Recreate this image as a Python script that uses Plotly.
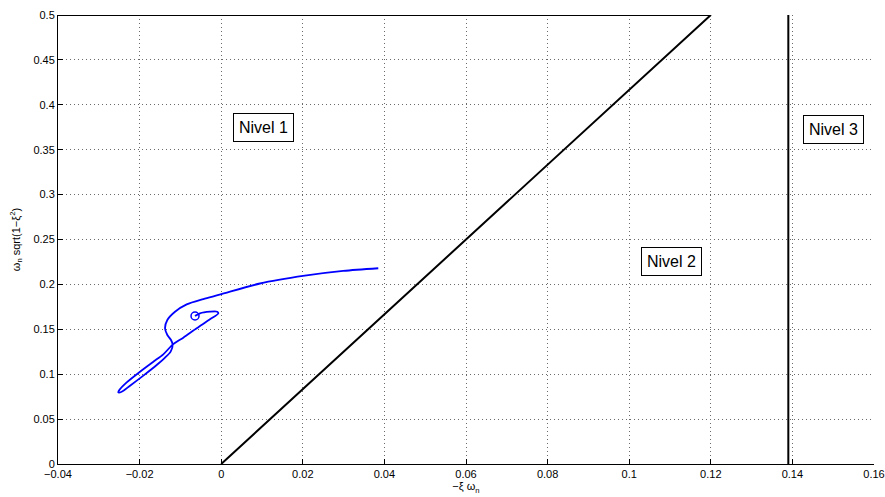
import plotly.graph_objects as go

# Blue trajectory
traj_x = [0.0385, 0.0299, 0.0205, 0.0095, -0.0004, -0.00438, -0.00846, -0.01132, -0.01320, -0.01377,
          -0.01320, -0.01230, -0.01190, -0.01239, -0.01377, -0.01581, -0.01908, -0.02235, -0.02439, -0.02521,
          -0.02497, -0.02316, -0.01990, -0.01664, -0.01419, -0.01190, -0.00929, -0.00601, -0.00275, -0.00071,
          -0.00096, -0.00275, -0.00520, -0.00642]
traj_y = [0.218, 0.215, 0.2097, 0.201, 0.1885, 0.1837, 0.1778, 0.1696, 0.1604, 0.1511,
          0.1437, 0.1381, 0.1329, 0.1251, 0.1184, 0.1102, 0.0984, 0.0872, 0.0805, 0.0798,
          0.0824, 0.0909, 0.1028, 0.1139, 0.1221, 0.1329, 0.1407, 0.1511, 0.1611, 0.1678,
          0.1696, 0.1696, 0.1678, 0.1648]

# Boundary lines
bound_x = [-0.04, 0.12, 0.0]
bound_y = [0.5, 0.5, 0.0]
vert_x = [0.139, 0.139]
vert_y = [0.0, 0.5]

# Region labels
label_text = ["Nivel 1", "Nivel 2", "Nivel 3"]
label_x = [0.0103, 0.1103, 0.150]
label_y = [0.375, 0.225, 0.373]

x_ticks = [-0.04, -0.02, 0, 0.02, 0.04, 0.06, 0.08, 0.1, 0.12, 0.14, 0.16]
x_tick_text = ["\u22120.04", "\u22120.02", "0", "0.02", "0.04", "0.06", "0.08", "0.1", "0.12", "0.14", "0.16"]
y_ticks = [0, 0.05, 0.1, 0.15, 0.2, 0.25, 0.3, 0.35, 0.4, 0.45, 0.5]
y_tick_text = ["0", "0.05", "0.1", "0.15", "0.2", "0.25", "0.3", "0.35", "0.4", "0.45", "0.5"]

FONT = "Liberation Sans, Arial"

fig = go.Figure()
fig.add_trace(go.Scatter(x=bound_x, y=bound_y, mode="lines",
                         line=dict(color="black", width=2), showlegend=False, cliponaxis=False))
fig.add_trace(go.Scatter(x=vert_x, y=vert_y, mode="lines",
                         line=dict(color="black", width=2), showlegend=False, cliponaxis=False))
fig.add_trace(go.Scatter(x=traj_x, y=traj_y, mode="lines",
                         line=dict(color="#0000ff", width=1.8, shape="spline", smoothing=0.8),
                         showlegend=False))
fig.add_trace(go.Scatter(x=[traj_x[-1]], y=[traj_y[-1]], mode="markers",
                         marker=dict(symbol="circle-open", size=8, color="#0000ff",
                                     line=dict(width=1.5, color="#0000ff")),
                         showlegend=False))

for t, x, y in zip(label_text, label_x, label_y):
    fig.add_annotation(x=x, y=y, text=t, showarrow=False,
                       font=dict(family=FONT, size=16, color="black"),
                       bordercolor="black", borderwidth=1, borderpad=5, bgcolor="white")

axis_common = dict(showline=True, linecolor="black", linewidth=1,
                   ticks="inside", ticklen=5, tickcolor="black",
                   showgrid=True, gridcolor="#6a6a6a", gridwidth=1, griddash="1px,3px",
                   zeroline=False, mirror=False, automargin=False,
                   tickfont=dict(family=FONT, size=11, color="black"))

fig.update_xaxes(range=[-0.04, 0.16], tickvals=x_ticks, ticktext=x_tick_text,
                 title=dict(text="\u2212\u03be \u03c9<sub>n</sub>", standoff=3,
                            font=dict(family=FONT, size=11, color="black")),
                 **axis_common)
fig.update_yaxes(range=[0, 0.5], tickvals=y_ticks, ticktext=y_tick_text,
                 title=dict(text="\u03c9<sub>n</sub> sqrt(1\u2212\u03be<sup>2</sup>)", standoff=10,
                            font=dict(family=FONT, size=11, color="black")),
                 **axis_common)

fig.update_layout(width=885, height=497, margin=dict(l=58, r=11, t=15, b=33),
                  plot_bgcolor="white", paper_bgcolor="white")

fig.write_html("out.html")
